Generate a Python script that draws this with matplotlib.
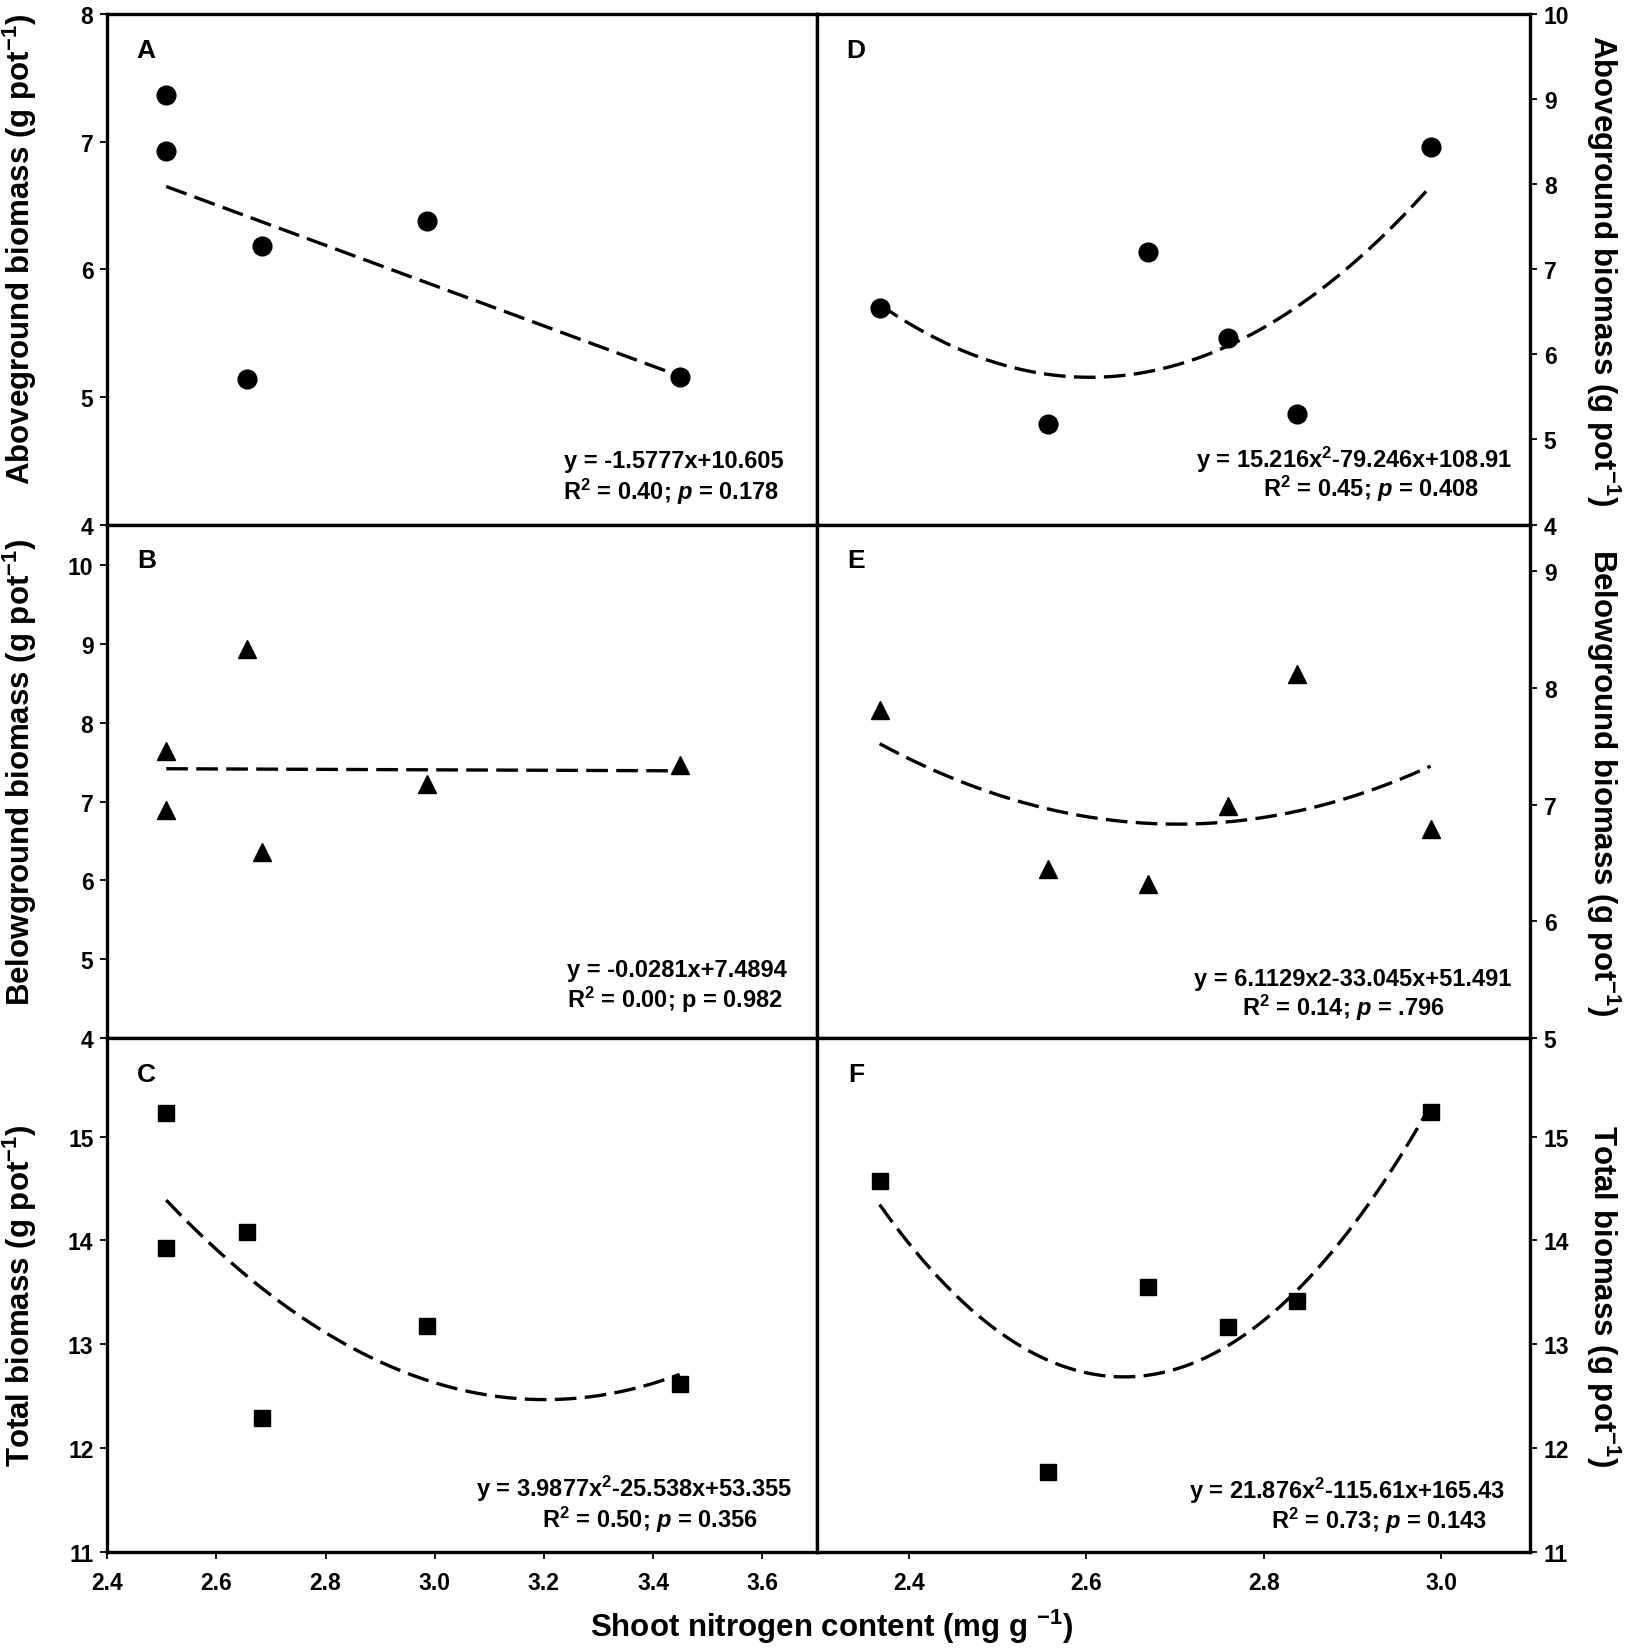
import numpy as np
import matplotlib.pyplot as plt

plt.rcParams['font.family'] = ['Liberation Sans', 'DejaVu Sans']
plt.rcParams['font.weight'] = 'bold'
plt.rcParams['mathtext.fontset'] = 'custom'
plt.rcParams['mathtext.rm'] = 'Liberation Sans:bold'
plt.rcParams['mathtext.it'] = 'Liberation Sans:italic:bold'
plt.rcParams['mathtext.bf'] = 'Liberation Sans:bold'

# shoot nitrogen content (x) for the left (A-C) and right (D-F) columns
n_left = [2.508, 2.508, 2.656, 2.683, 2.985, 3.449]
n_right = [2.367, 2.557, 2.669, 2.760, 2.838, 2.988]

# biomass values (g pot-1)
above_left = [7.367, 6.929, 5.141, 6.179, 6.376, 5.155]
below_left = [7.649, 6.900, 8.944, 6.368, 7.227, 7.472]
total_left = [15.23, 13.93, 14.08, 12.29, 13.18, 12.62]
above_right = [6.542, 5.181, 7.199, 6.194, 5.294, 8.442]
below_right = [7.813, 6.449, 6.321, 6.992, 8.122, 6.792]
total_right = [14.57, 11.77, 13.55, 13.17, 13.42, 15.24]

# regression coefficients printed in each panel (highest power first)
fit_a = [-1.5777, 10.605]
fit_b = [-0.0281, 7.4894]
fit_c = [3.9877, -25.538, 53.355]
fit_d = [15.216, -79.246, 108.91]
fit_e = [6.1129, -33.045, 51.491]
fit_f = [21.876, -115.61, 165.43]

eq_text = {
    'A': ("y = -1.5777x+10.605", "R$^2$ = 0.40; $p$ = 0.178"),
    'B': ("y = -0.0281x+7.4894", "R$^2$ = 0.00; p = 0.982"),
    'C': ("y = 3.9877x$^2$-25.538x+53.355", "R$^2$ = 0.50; $p$ = 0.356"),
    'D': ("y = 15.216x$^2$-79.246x+108.91", "R$^2$ = 0.45; $p$ = 0.408"),
    'E': ("y = 6.1129x2-33.045x+51.491", "R$^2$ = 0.14; $p$ = .796"),
    'F': ("y = 21.876x$^2$-115.61x+165.43", "R$^2$ = 0.73; $p$ = 0.143"),
}
# where each of the two text lines sits (axes fraction)
eq_pos = {
    'A': ((0.798, 0.126), (0.795, 0.066)),
    'B': ((0.803, 0.134), (0.800, 0.076)),
    'C': ((0.743, 0.124), (0.765, 0.065)),
    'D': ((0.754, 0.129), (0.777, 0.071)),
    'E': ((0.752, 0.115), (0.738, 0.060)),
    'F': ((0.744, 0.120), (0.788, 0.062)),
}

above_label = 'Aboveground biomass (g pot$^{-1}$)'
below_label = 'Belowground biomass (g pot$^{-1}$)'
total_label = 'Total biomass (g pot$^{-1}$)'

fig = plt.figure(figsize=(16.31, 16.49), dpi=100)

col_x = [0.0658, 0.5007]
col_w = [0.4349, 0.4373]
row_y = [0.68132, 0.36992, 0.05822]
row_h = [0.3096, 0.3114, 0.3117]

panels = [
    # letter, col, row, x, y, marker, fit, ylim, yticks, ylabel, label y
    ('A', 0, 0, n_left, above_left, 'o', fit_a, (4, 8), range(4, 9), above_label, 0.54),
    ('B', 0, 1, n_left, below_left, '^', fit_b, (4, 10.52), range(4, 11), below_label, 0.52),
    ('C', 0, 2, n_left, total_left, 's', fit_c, (11, 15.95), range(11, 16), total_label, 0.5),
    ('D', 1, 0, n_right, above_right, 'o', fit_d, (4, 10), range(4, 11), above_label, 0.5),
    ('E', 1, 1, n_right, below_right, '^', fit_e, (5, 9.4), range(5, 10), below_label, 0.5),
    ('F', 1, 2, n_right, total_right, 's', fit_f, (11, 15.95), range(11, 16), total_label, 0.5),
]

msize = {'o': 13.5, '^': 13, 's': 11.5}

for letter, col, row, xs, ys, mk, fit, ylim, yticks, ylab, laby in panels:
    ax = fig.add_axes([col_x[col], row_y[row], col_w[col], row_h[row]])
    ax.plot(xs, ys, linestyle='none', marker=mk, markersize=msize[mk],
            color='black', zorder=3)
    xf = np.linspace(min(xs), max(xs), 200)
    ax.plot(xf, np.polyval(fit, xf), color='black', linewidth=2.4,
            dashes=(6.5, 2.5), zorder=2)

    if col == 0:
        ax.set_xlim(2.4, 3.7)
        ax.set_xticks([2.4, 2.6, 2.8, 3.0, 3.2, 3.4, 3.6])
    else:
        ax.set_xlim(2.296, 3.1)
        ax.set_xticks([2.4, 2.6, 2.8, 3.0])
    ax.set_ylim(*ylim)
    ax.set_yticks(list(yticks))

    for sp in ax.spines.values():
        sp.set_linewidth(2.4)

    ax.tick_params(axis='x', direction='out', length=5, width=1.3,
                   labelsize=16.5, pad=9)
    ax.tick_params(axis='y', direction='out', length=5, width=1.3,
                   labelsize=16.5, pad=5)
    if row < 2:
        ax.tick_params(axis='x', labelbottom=False)

    if col == 1:
        ax.yaxis.tick_right()
        ax.yaxis.set_label_position('right')
        ax.set_ylabel(ylab, fontsize=22.5, fontweight='bold', rotation=270,
                      va='center')
        ax.yaxis.set_label_coords(1.1023, laby)
    else:
        ax.set_ylabel(ylab, fontsize=22.5, fontweight='bold')
        ax.yaxis.set_label_coords(-0.0963, laby)

    for lab in ax.get_xticklabels() + ax.get_yticklabels():
        lab.set_fontweight('bold')

    ax.text(0.055, 0.93, letter, transform=ax.transAxes, fontsize=19,
            fontweight='bold', ha='center', va='center')

    (x1, y1), (x2, y2) = eq_pos[letter]
    line1, line2 = eq_text[letter]
    ax.text(x1, y1, line1, transform=ax.transAxes, fontsize=17,
            fontweight='bold', ha='center', va='center')
    ax.text(x2, y2, line2, transform=ax.transAxes, fontsize=17,
            fontweight='bold', ha='center', va='center')

fig.text(0.510, 0.0135, 'Shoot nitrogen content (mg g $^{-1}$)', fontsize=22.5,
         fontweight='bold', ha='center', va='center')

fig.savefig('out.png', dpi=100)
